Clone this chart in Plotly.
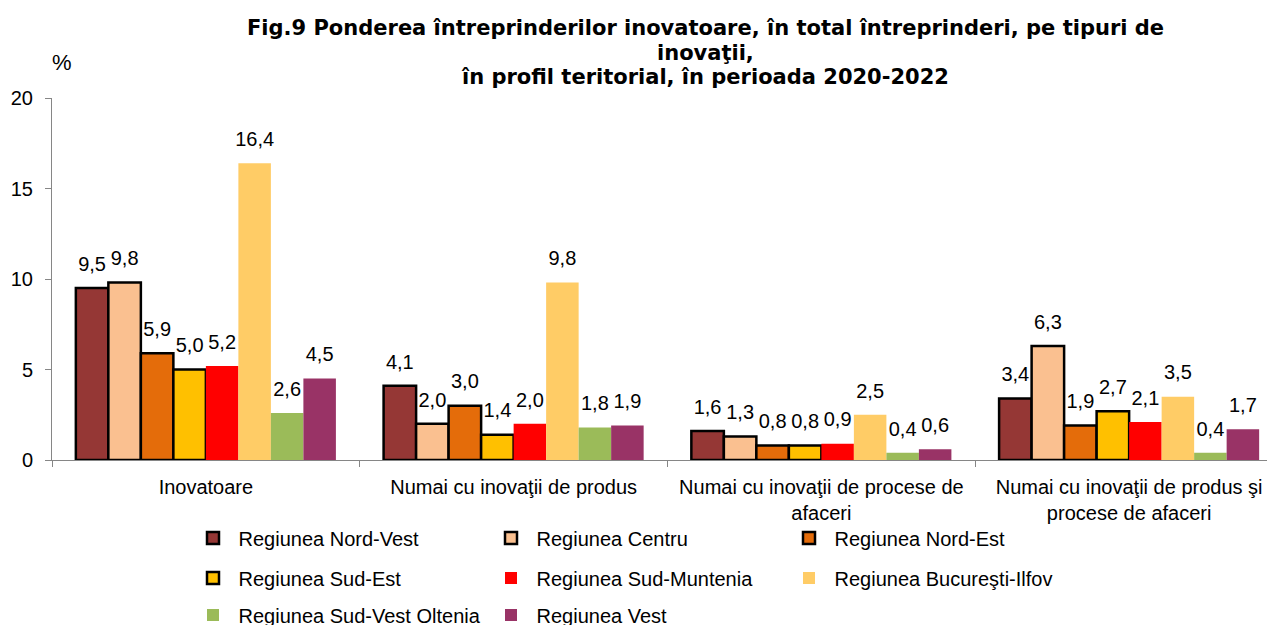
import plotly.graph_objects as go

categories = [
    "Inovatoare",
    "Numai cu inovaţii de produs",
    "Numai cu inovaţii de procese de<br>afaceri",
    "Numai cu inovaţii de produs şi<br>procese de afaceri",
]
regions = [
    "Regiunea Nord-Vest", "Regiunea Centru", "Regiunea Nord-Est",
    "Regiunea Sud-Est", "Regiunea Sud-Muntenia", "Regiunea Bucureşti-Ilfov",
    "Regiunea Sud-Vest Oltenia", "Regiunea Vest",
]
nord_vest = [9.5, 4.1, 1.6, 3.4]
centru = [9.8, 2.0, 1.3, 6.3]
nord_est = [5.9, 3.0, 0.8, 1.9]
sud_est = [5.0, 1.4, 0.8, 2.7]
sud_muntenia = [5.2, 2.0, 0.9, 2.1]
bucuresti_ilfov = [16.4, 9.8, 2.5, 3.5]
sud_vest_oltenia = [2.6, 1.8, 0.4, 0.4]
vest = [4.5, 1.9, 0.6, 1.7]
series = [nord_vest, centru, nord_est, sud_est, sud_muntenia,
          bucuresti_ilfov, sud_vest_oltenia, vest]

title_lines = [
    "Fig.9 Ponderea întreprinderilor inovatoare, în total întreprinderi, pe tipuri de",
    "inovaţii,",
    "în profil teritorial, în perioada 2020-2022",
]

colors = ["#953735", "#FAC090", "#E46C0A", "#FFC000", "#FF0000",
          "#FFCC66", "#9BBB59", "#993366"]
outlined = [True, True, True, True, False, False, False, False]
legend_ids = ["legend", "legend", "legend", "legend2", "legend2", "legend2",
              "legend3", "legend3"]

FONT = "Liberation Sans, Arial, sans-serif"
TITLE_FONT = "DejaVu Sans, Liberation Sans, Arial, sans-serif"
GAP = 0.155

fig = go.Figure()
for i, (name, vals, col, ol, lg) in enumerate(
        zip(regions, series, colors, outlined, legend_ids)):
    fig.add_trace(go.Bar(
        x=categories, y=vals, name="\u00a0" + name,
        offsetgroup=str(i),
        marker=dict(color=col,
                    line=dict(color="#000000" if ol else col, width=2.5 if ol else 0)),
        legend=lg,
        hoverinfo="x+y",
    ))
for i, vals in enumerate(series):
    fig.add_trace(go.Scatter(
        x=categories, y=vals, mode="markers+text",
        offsetgroup=str(i),
        text=[f"{v:.1f}".replace(".", ",") for v in vals],
        textposition="top center",
        textfont=dict(size=20, color="#000000", family=FONT),
        marker=dict(size=18, opacity=0),
        cliponaxis=False, showlegend=False, hoverinfo="skip",
    ))

leg_common = dict(
    orientation="h", xref="container", yref="container",
    x=185 / 1275, xanchor="left", yanchor="middle",
    font=dict(size=20, family=FONT, color="#000000"),
    entrywidth=253, entrywidthmode="pixels",
    bgcolor="rgba(0,0,0,0)", traceorder="normal",
)

# plot area in figure pixels: left 44, top 90, bottom 452
def px_x(x):
    return (x - 44) / 1232

def px_y(y):
    return (452 - y) / 362

annotations = []
for line, yy in zip(title_lines, [20, 45, 69]):
    annotations.append(dict(
        text=f"<b>{line}</b>", xref="paper", yref="paper",
        x=px_x(698), y=px_y(yy), xanchor="center", yanchor="middle",
        showarrow=False, font=dict(size=21, family=TITLE_FONT, color="#000000"),
    ))
annotations.append(dict(
    text="%", xref="paper", yref="paper", x=px_x(54), y=px_y(55),
    xanchor="center", yanchor="middle", showarrow=False,
    font=dict(size=22, family=FONT, color="#000000"),
))

fig.update_layout(
    width=1275, height=625,
    margin=dict(l=44, r=0, t=90, b=173, autoexpand=False),
    paper_bgcolor="white", plot_bgcolor="white",
    barmode="group", bargap=GAP, bargroupgap=0,
    scattermode="group", scattergap=GAP,
    font=dict(family=FONT, size=20, color="#000000"),
    legend=dict(leg_common, y=1 - 530 / 625),
    legend2=dict(leg_common, y=1 - 570 / 625),
    legend3=dict(leg_common, y=1 - 607 / 625),
    xaxis=dict(
        showline=True, linecolor="#868686", linewidth=1,
        ticks="outside", ticklen=6, tickcolor="#868686", tickson="boundaries",
        ticklabelstandoff=9, automargin=False,
        tickfont=dict(size=20, family=FONT, color="#000000"),
        showgrid=False,
    ),
    yaxis=dict(
        range=[0, 20], tickvals=[0, 5, 10, 15, 20],
        showline=True, linecolor="#868686", linewidth=1,
        ticks="outside", ticklen=6, tickcolor="#868686",
        ticklabelstandoff=8, automargin=False,
        tickfont=dict(size=20, family=FONT, color="#000000"),
        showgrid=False, zeroline=False,
    ),
    annotations=annotations,
)

fig.write_html("out.html")
